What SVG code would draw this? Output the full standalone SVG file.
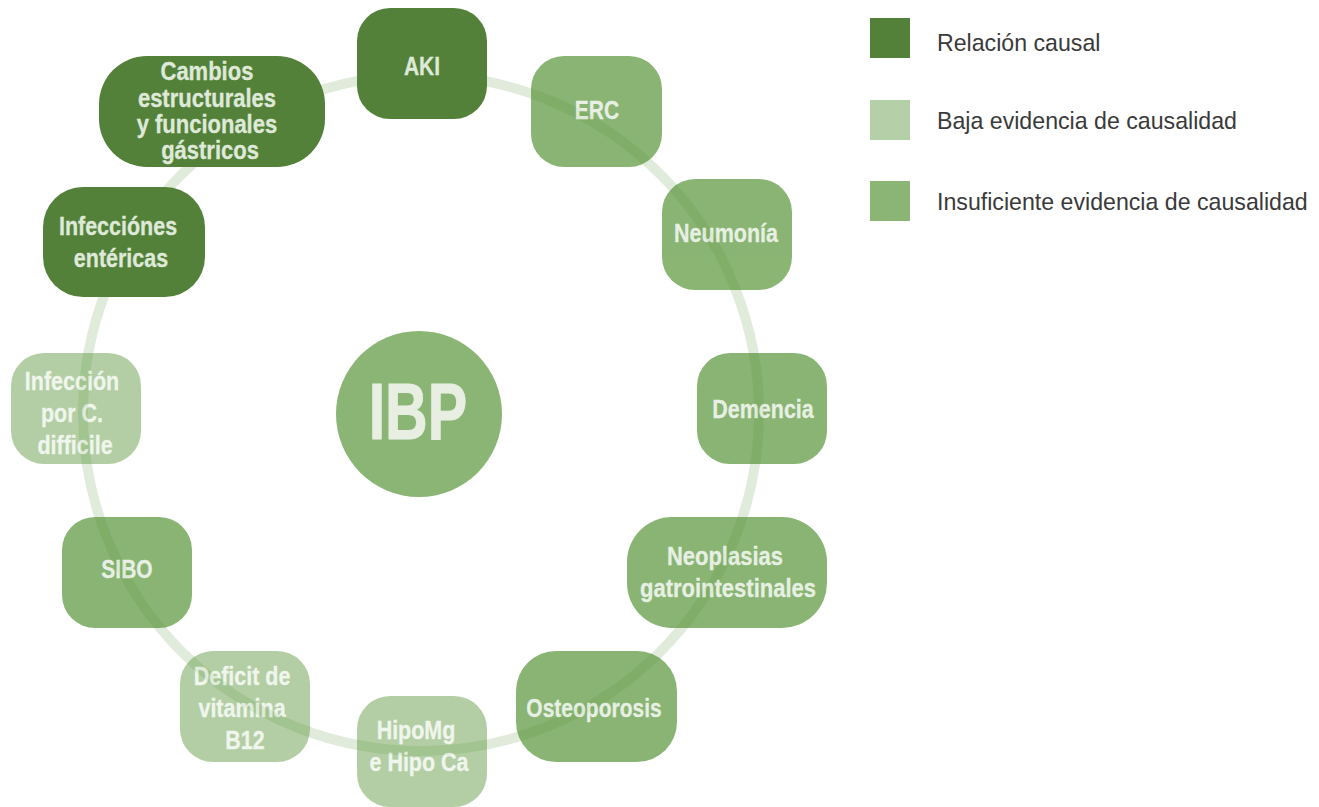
<svg xmlns="http://www.w3.org/2000/svg" width="1319" height="807" viewBox="0 0 1319 807">
  <style>
    .ring { fill: none; stroke: #e1ebdb; stroke-width: 10; }
    .lbl { font-family: "Liberation Sans", Arial, sans-serif; font-weight: bold; font-size: 25px; fill: #dfe9d9; stroke: #dfe9d9; stroke-width: 0.3; text-anchor: middle; }
    .causal rect { fill: #548139; }
    .insuf { opacity: 0.7; }
    .insuf rect { fill: #589538; }
    .baja { opacity: 0.45; }
    .baja rect { fill: #589538; }
    .hub { fill: #8ab574; }
    .hub-lbl { font-family: "Liberation Sans", Arial, sans-serif; font-weight: bold; font-size: 80px; fill: #e8efe2; stroke: #e8efe2; stroke-width: 1; text-anchor: middle; }
    .key-lbl { font-family: "Liberation Sans", Arial, sans-serif; font-size: 24px; fill: #3a3a3a; }
  </style>

  <rect width="1319" height="807" fill="#ffffff"/>

  <!-- ring linking the effects around the central drug -->
  <g id="connectors">
    <circle class="ring" cx="421" cy="413" r="338"/>
  </g>

  <!-- labels are narrowed horizontally to give a condensed face -->
  <g id="ibp">
    <circle class="hub" cx="419" cy="414" r="83"/>
    <text class="hub-lbl" transform="translate(418 0) scale(0.74 1)" x="0" y="439">IBP</text>
  </g>

  <g id="aki" class="causal">
    <rect x="357" y="8" width="130" height="111" rx="33"/>
    <text class="lbl" transform="translate(422 0) scale(0.84 1)"><tspan x="0" y="75">AKI</tspan></text>
  </g>

  <g id="erc" class="insuf">
    <rect x="531" y="56" width="131" height="111" rx="33"/>
    <text class="lbl" transform="translate(597 0) scale(0.84 1)"><tspan x="0" y="119">ERC</tspan></text>
  </g>

  <g id="neumonia" class="insuf">
    <rect x="662" y="179" width="130" height="111" rx="33"/>
    <text class="lbl" transform="translate(726 0) scale(0.86 1)"><tspan x="0" y="242">Neumonía</tspan></text>
  </g>

  <g id="demencia" class="insuf">
    <rect x="697" y="353" width="130" height="111" rx="33"/>
    <text class="lbl" transform="translate(763 0) scale(0.86 1)"><tspan x="0" y="418">Demencia</tspan></text>
  </g>

  <g id="neoplasias" class="insuf">
    <rect x="627" y="517" width="200" height="111" rx="45"/>
    <text class="lbl" transform="translate(728 0) scale(0.88 1)">
      <tspan x="0" y="565">Neoplasias</tspan>
      <tspan x="0" y="597">gatrointestinales</tspan>
    </text>
  </g>

  <g id="osteoporosis" class="insuf">
    <rect x="516" y="651" width="161" height="111" rx="40"/>
    <text class="lbl" transform="translate(594 0) scale(0.84 1)"><tspan x="0" y="717">Osteoporosis</tspan></text>
  </g>

  <g id="hipomg" class="baja">
    <rect x="357" y="696" width="130" height="111" rx="33"/>
    <text class="lbl" transform="translate(419 0) scale(0.86 1)">
      <tspan x="0" y="739">HipoMg</tspan>
      <tspan x="0" y="771">e Hipo Ca</tspan>
    </text>
  </g>

  <g id="b12" class="baja">
    <rect x="180" y="651" width="130" height="111" rx="33"/>
    <text class="lbl" transform="translate(245 0) scale(0.86 1)">
      <tspan x="0" y="685">Deficit de</tspan>
      <tspan x="0" y="717">vitamina</tspan>
      <tspan x="0" y="749">B12</tspan>
    </text>
  </g>

  <g id="sibo" class="insuf">
    <rect x="62" y="517" width="130" height="111" rx="33"/>
    <text class="lbl" transform="translate(127 0) scale(0.84 1)"><tspan x="0" y="578">SIBO</tspan></text>
  </g>

  <g id="cdifficile" class="baja">
    <rect x="11" y="353" width="130" height="111" rx="33"/>
    <text class="lbl" transform="translate(75 0) scale(0.86 1)">
      <tspan x="0" y="390">Infección</tspan>
      <tspan x="0" y="422">por C.</tspan>
      <tspan x="0" y="454">difficile</tspan>
    </text>
  </g>

  <g id="entericas" class="causal">
    <rect x="43" y="187" width="162" height="110" rx="40"/>
    <text class="lbl" transform="translate(121 0) scale(0.86 1)">
      <tspan x="0" y="235">Infecciónes</tspan>
      <tspan x="0" y="267">entéricas</tspan>
    </text>
  </g>

  <g id="gastricos" class="causal">
    <rect x="99" y="56" width="226" height="111" rx="48"/>
    <text class="lbl" transform="translate(210 0) scale(0.88 1)">
      <tspan x="0" y="80">Cambios</tspan>
      <tspan x="0" y="107">estructurales</tspan>
      <tspan x="0" y="133">y funcionales</tspan>
      <tspan x="0" y="159">gástricos</tspan>
    </text>
  </g>

  <g id="legend">
    <rect x="870" y="18" width="40" height="40" fill="#548139"/>
    <rect x="870" y="100" width="40" height="40" fill="#b5d0a8"/>
    <rect x="870" y="181" width="40" height="40" fill="#8ab574"/>
    <text class="key-lbl" transform="translate(937 0) scale(0.965 1)">
      <tspan x="0" y="51">Relación causal</tspan>
      <tspan x="0" y="129">Baja evidencia de causalidad</tspan>
      <tspan x="0" y="210">Insuficiente evidencia de causalidad</tspan>
    </text>
  </g>
</svg>
